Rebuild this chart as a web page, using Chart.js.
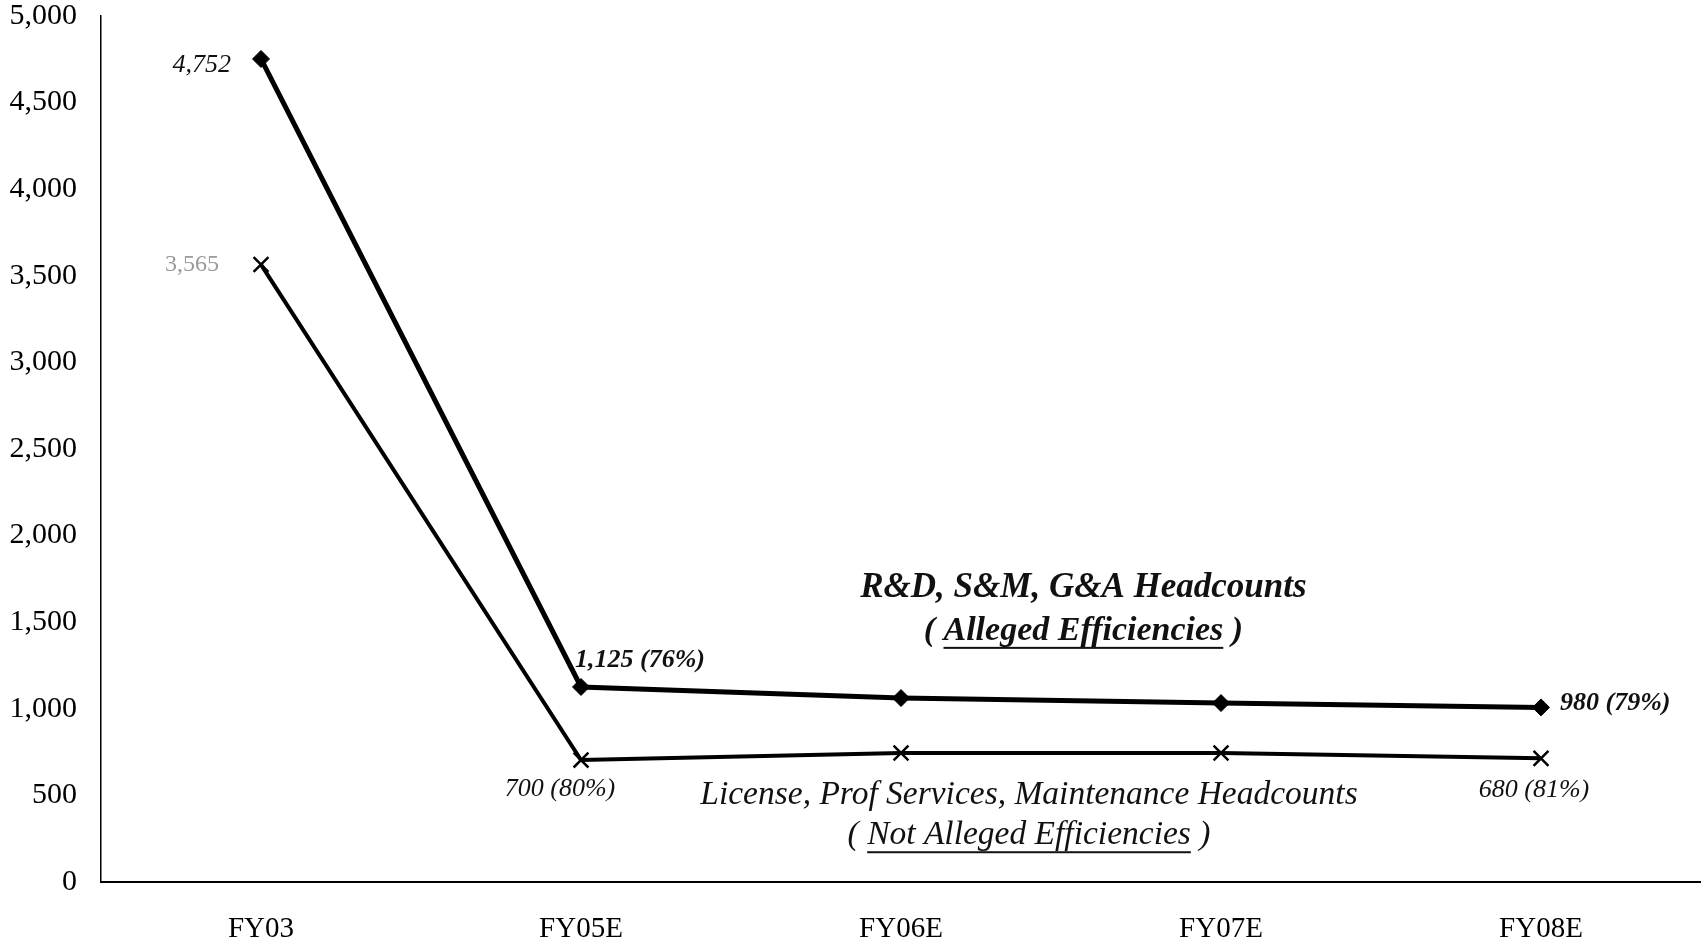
<!DOCTYPE html>
<html>
<head>
<meta charset="utf-8">
<script src="https://cdn.jsdelivr.net/npm/chart.js@4.4.0/dist/chart.umd.min.js"></script>
<style>
  html, body { margin: 0; padding: 0; background: #fff; }
  #wrap { width: 1701px; height: 945px; position: relative; }
</style>
</head>
<body>
<div id="wrap"><canvas id="chart"></canvas></div>
<script>
const categories = ["FY03", "FY05E", "FY06E", "FY07E", "FY08E"];
const allegedHeadcount = [4752, 1126, 1062, 1033, 1008];
const notAllegedHeadcount = [3565, 704, 745, 745, 714];
const yTicks = [0, 500, 1000, 1500, 2000, 2500, 3000, 3500, 4000, 4500, 5000];

// point labels: [dataset, index, text, style]
const pointLabels = [
  [0, 0, "4,752", "italic"],
  [1, 0, "3,565", "faded"],
  [0, 1, "1,125 (76%)", "bold italic"],
  [1, 1, "700 (80%)", "italic"],
  [0, 4, "980 (79%)", "bold italic"],
  [1, 4, "680 (81%)", "italic"],
];
// offsets for the labels above, same order
const labelOffsets = [
  { dx: -30, dy: 6, align: "right" },
  { dx: -42, dy: 0, align: "right" },
  { dx: -6, dy: -27, align: "left" },
  { dx: -21, dy: 29, align: "center" },
  { dx: 19, dy: -4, align: "left" },
  { dx: -7, dy: 32, align: "center" },
];

const serif = "'Liberation Serif', 'Times New Roman', serif";

const labelsPlugin = {
  id: "pointLabels",
  afterDatasetsDraw(chart) {
    const ctx = chart.ctx;
    ctx.save();
    ctx.textBaseline = "middle";
    pointLabels.forEach((l, i) => {
      const pt = chart.getDatasetMeta(l[0]).data[l[1]];
      const o = labelOffsets[i];
      let font = "italic 26px " + serif;
      ctx.fillStyle = "#111";
      if (l[3] == "bold italic") font = "italic bold 26px " + serif;
      if (l[3] == "faded") { font = "24px " + serif; ctx.fillStyle = "#9a9a9a"; }
      ctx.font = font;
      ctx.textAlign = o.align;
      ctx.fillText(l[2], pt.x + o.dx, pt.y + o.dy);
    });

    // series captions, placed in data coordinates
    const xs = chart.scales.x, ys = chart.scales.y;
    const captions = [
      { x: 2.57, y: 1700, parts: [["R&D, S&M, G&A Headcounts", false]], font: "italic bold 35px " + serif },
      { x: 2.57, y: 1450, parts: [["( ", false], ["Alleged Efficiencies", true], [" )", false]], font: "italic bold 34px " + serif },
      { x: 2.40, y: 500, parts: [["License, Prof Services, Maintenance Headcounts", false]], font: "italic 33.5px " + serif },
      { x: 2.40, y: 270, parts: [["( ", false], ["Not Alleged Efficiencies", true], [" )", false]], font: "italic 33.5px " + serif },
    ];
    captions.forEach((c) => {
      ctx.font = c.font;
      ctx.textAlign = "left";
      const cx = xs.getPixelForValue(c.x);
      const cy = ys.getPixelForValue(c.y);
      let total = 0;
      c.parts.forEach((p) => (total += ctx.measureText(p[0]).width));
      let x = cx - total / 2;
      c.parts.forEach((p) => {
        const w = ctx.measureText(p[0]).width;
        ctx.fillText(p[0], x, cy);
        if (p[1]) {
          ctx.fillRect(x, cy + 16, w, 2);
        }
        x += w;
      });
    });
    ctx.restore();
  },
};

new Chart(document.getElementById("chart"), {
  type: "line",
  data: {
    labels: categories,
    datasets: [
      {
        label: "R&D, S&M, G&A Headcounts",
        data: allegedHeadcount,
        borderColor: "#000",
        backgroundColor: "#000",
        borderWidth: 5,
        pointStyle: "rectRot",
        pointRadius: 8.5,
        pointBorderWidth: 1,
        tension: 0,
      },
      {
        label: "License, Prof Services, Maintenance Headcounts",
        data: notAllegedHeadcount,
        borderColor: "#000",
        backgroundColor: "#000",
        borderWidth: 4,
        pointStyle: "crossRot",
        pointRadius: 10.5,
        pointBorderWidth: 2.5,
        tension: 0,
      },
    ],
  },
  options: {
    responsive: true,
    maintainAspectRatio: false,
    animation: false,
    layout: { autoPadding: false, padding: { top: 16, right: 0, left: 0, bottom: 0 } },
    plugins: {
      legend: { display: false },
      tooltip: { enabled: false },
    },
    scales: {
      x: {
        offset: true,
        grid: { display: false, drawTicks: false },
        border: { color: "#000", width: 2 },
        ticks: {
          color: "#000",
          padding: 30,
          font: { family: serif, size: 29 },
        },
        afterFit(scale) {
          scale.height = 63;
          scale.paddingLeft = 0;
          scale.paddingRight = 0;
        },
      },
      y: {
        min: 0,
        max: 5000,
        afterBuildTicks(scale) {
          scale.ticks = yTicks.map((v) => ({ value: v }));
        },
        grid: { display: false, drawTicks: false },
        border: { color: "#000", width: 1.5 },
        ticks: {
          color: "#000",
          padding: 24,
          font: { family: serif, size: 30 },
          callback: (v) => v.toLocaleString("en-US"),
        },
        afterFit(scale) {
          scale.width = 101;
          scale.paddingTop = 0;
          scale.paddingBottom = 0;
        },
      },
    },
  },
  plugins: [labelsPlugin],
});
</script>
</body>
</html>
